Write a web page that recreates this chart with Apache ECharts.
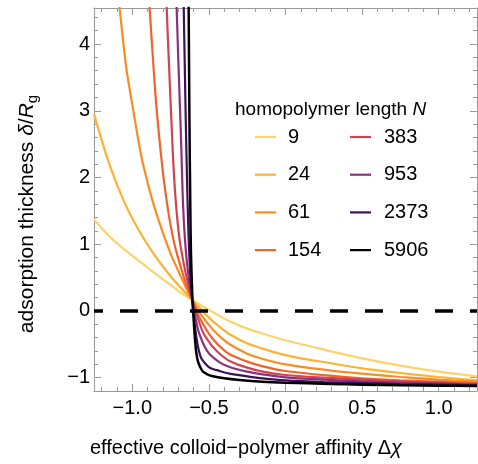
<!DOCTYPE html>
<html>
<head>
<meta charset="utf-8">
<script src="https://cdn.jsdelivr.net/npm/echarts@6/dist/echarts.min.js"></script>
<style>
html,body{margin:0;padding:0;background:#fff;}
#c{width:478px;height:464px;}
</style>
</head>
<body>
<div id="c"></div>
<script>
// ---- data ----
const seriesNames = ['9', '24', '61', '154', '383', '953', '2373', '5906'];
const seriesColors = ['#fdd36c', '#fdb233', '#fb8c22', '#f0632e', '#d1444f', '#8e2f7e', '#3b1258', '#000000'];

const N9 = [[-1.25,1.37],[-1.15,1.12],[-1.05,0.92],[-0.95,0.74],[-0.85,0.56],[-0.75,0.39],[-0.68,0.27],[-0.608,0.16],[-0.48,-0.01],[-0.365,-0.155],[-0.25,-0.265],[-0.12,-0.36],[0,-0.44],[0.25,-0.58],[0.5,-0.71],[0.75,-0.82],[1.0,-0.91],[1.25,-0.98]];
const N24 = [[-1.25,2.95],[-1.15,2.2],[-1.05,1.62],[-0.95,1.18],[-0.85,0.82],[-0.75,0.52],[-0.68,0.34],[-0.608,0.16],[-0.5,-0.1],[-0.43,-0.24],[-0.365,-0.35],[-0.256,-0.48],[-0.15,-0.565],[-0.04,-0.64],[0.1,-0.71],[0.287,-0.78],[0.5,-0.86],[0.75,-0.93],[1.0,-0.99],[1.25,-1.04]];
const N61 = [[-1.095,4.8],[-1.081,4.5],[-1.04,3.65],[-1.005,3.16],[-0.96,2.55],[-0.93,2.2],[-0.864,1.62],[-0.8,1.17],[-0.75,0.86],[-0.712,0.66],[-0.66,0.4],[-0.608,0.16],[-0.55,-0.06],[-0.474,-0.28],[-0.42,-0.4],[-0.365,-0.5],[-0.25,-0.64],[-0.148,-0.72],[0,-0.8],[0.287,-0.89],[0.5,-0.94],[0.75,-0.99],[1.0,-1.03],[1.25,-1.06]];
const N154 = [[-0.895,4.8],[-0.886,4.5],[-0.857,3.5],[-0.835,2.86],[-0.802,2.11],[-0.78,1.72],[-0.756,1.36],[-0.725,1.0],[-0.69,0.71],[-0.65,0.41],[-0.608,0.16],[-0.57,-0.06],[-0.517,-0.28],[-0.474,-0.42],[-0.42,-0.55],[-0.365,-0.65],[-0.25,-0.76],[-0.148,-0.83],[0,-0.9],[0.287,-0.97],[0.5,-1.01],[0.75,-1.04],[1.0,-1.06],[1.25,-1.08]];
const N383 = [[-0.78,4.9],[-0.775,4.5],[-0.757,3.5],[-0.745,2.86],[-0.734,2.3],[-0.723,1.86],[-0.708,1.42],[-0.69,1.05],[-0.67,0.78],[-0.65,0.55],[-0.63,0.35],[-0.608,0.16],[-0.58,-0.05],[-0.539,-0.32],[-0.5,-0.46],[-0.474,-0.54],[-0.42,-0.66],[-0.365,-0.75],[-0.25,-0.85],[-0.148,-0.91],[0,-0.96],[0.25,-1.0],[0.5,-1.03],[0.75,-1.055],[1.0,-1.075],[1.25,-1.095]];
const N953 = [[-0.715,4.9],[-0.71,4.5],[-0.698,3.65],[-0.686,2.86],[-0.677,2.2],[-0.669,1.61],[-0.657,1.1],[-0.643,0.72],[-0.627,0.42],[-0.608,0.16],[-0.595,-0.02],[-0.575,-0.24],[-0.56,-0.36],[-0.53,-0.525],[-0.495,-0.65],[-0.43,-0.77],[-0.365,-0.84],[-0.25,-0.91],[-0.148,-0.95],[0,-0.995],[0.25,-1.03],[0.5,-1.055],[0.75,-1.075],[1.0,-1.09],[1.25,-1.105]];
const N2373 = [[-0.667,4.9],[-0.664,4.5],[-0.651,2.86],[-0.644,2.1],[-0.636,1.36],[-0.628,0.85],[-0.618,0.42],[-0.608,0.16],[-0.598,-0.08],[-0.589,-0.27],[-0.58,-0.42],[-0.565,-0.6],[-0.55,-0.71],[-0.52,-0.8],[-0.495,-0.85],[-0.43,-0.9],[-0.365,-0.94],[-0.25,-0.98],[-0.148,-1.01],[0,-1.04],[0.25,-1.065],[0.5,-1.08],[0.75,-1.095],[1.0,-1.105],[1.25,-1.115]];
const N5906 = [[-0.634,4.9],[-0.632,4.5],[-0.627,2.86],[-0.621,1.5],[-0.617,0.86],[-0.607,0.16],[-0.599,-0.15],[-0.59,-0.45],[-0.582,-0.63],[-0.571,-0.76],[-0.555,-0.85],[-0.539,-0.91],[-0.51,-0.95],[-0.474,-0.98],[-0.4,-1.01],[-0.3,-1.035],[-0.15,-1.06],[0,-1.075],[0.287,-1.095],[0.5,-1.105],[0.75,-1.115],[1.0,-1.12],[1.25,-1.125]];
const zeroLine = [[-1.25,0],[1.25,0]];

const xMajor = [-1, -0.5, 0, 0.5, 1];
const xMinor = [-1.2,-1.1,-0.9,-0.8,-0.7,-0.6,-0.4,-0.3,-0.2,-0.1,0.1,0.2,0.3,0.4,0.6,0.7,0.8,0.9,1.1,1.2];
const yMajor = [-1, 0, 1, 2, 3, 4];
const yMinor = [-0.8,-0.6,-0.4,-0.2,0.2,0.4,0.6,0.8,1.2,1.4,1.6,1.8,2.2,2.4,2.6,2.8,3.2,3.4,3.6,3.8,4.2,4.4];

const xLabel = 'effective colloid\u2212polymer affinity \u0394';
const yLabel = 'adsorption thickness ';
const legendTitle = 'homopolymer length ';

// ---- chart ----
const FONT = '"Liberation Sans", Arial, Helvetica, sans-serif';
const FRAME = '#9a9a9a';
const XMIN = -1.25, XMAX = 1.25, YMIN = -1.2, YMAX = 4.54;
const fmt = (v, d) => (v < 0 ? '\u2212' : '') + Math.abs(v).toFixed(d);

function xAx(pos, ticks, len, line, labels) {
  return {
    type: 'value', position: pos, min: XMIN, max: XMAX,
    axisLine: { show: line, onZero: false, lineStyle: { color: FRAME, width: 1 } },
    axisTick: { show: true, inside: true, length: len, customValues: ticks, lineStyle: { color: FRAME, width: 1 } },
    axisLabel: labels ? { show: true, customValues: ticks, formatter: v => fmt(v, 1), color: '#000', fontSize: 20, fontFamily: FONT, margin: 7 } : { show: false },
    splitLine: { show: false }
  };
}
function yAx(pos, ticks, len, line, labels) {
  return {
    type: 'value', position: pos, min: YMIN, max: YMAX,
    axisLine: { show: line, onZero: false, lineStyle: { color: FRAME, width: 1 } },
    axisTick: { show: true, inside: true, length: len, customValues: ticks, lineStyle: { color: FRAME, width: 1 } },
    axisLabel: labels ? { show: true, customValues: ticks, formatter: v => fmt(v, 0), color: '#000', fontSize: 20, fontFamily: FONT, margin: 4 } : { show: false },
    splitLine: { show: false }
  };
}

const curveData = [N9, N24, N61, N154, N383, N953, N2373, N5906];
const series = curveData.map((d, i) => ({
  name: seriesNames[i], type: 'line', data: d, xAxisIndex: 0, yAxisIndex: 0,
  symbol: 'none', showSymbol: false, smooth: 0.3, clip: true,
  lineStyle: { color: seriesColors[i], width: i === 7 ? 2.5 : 2.2 },
  itemStyle: { color: seriesColors[i] },
  emphasis: { disabled: true }, silent: true, animation: false
}));
series.push({
  name: 'zero', type: 'line', data: zeroLine, xAxisIndex: 0, yAxisIndex: 0,
  symbol: 'none', showSymbol: false, clip: true, silent: true, animation: false,
  lineStyle: { color: '#000', width: 3.5, type: [18, 17], dashOffset: 9, cap: 'butt' }
});

const legendCommon = {
  orient: 'vertical', padding: 0, itemWidth: 21, itemHeight: 2.2, itemGap: 17.7,
  selectedMode: false, icon: 'rect',
  textStyle: { fontSize: 20, color: '#000', fontFamily: FONT, lineHeight: 20 }
};

const chart = echarts.init(document.getElementById('c'), null, { renderer: 'canvas' });
chart.setOption({
  animation: false,
  backgroundColor: '#fff',
  grid: { left: 94, right: 1, top: 8, bottom: 73 },
  xAxis: [ xAx('bottom', xMajor, 7, true, true), xAx('bottom', xMinor, 4, false, false),
           xAx('top', xMajor, 7, true, false), xAx('top', xMinor, 4, false, false) ],
  yAxis: [ yAx('left', yMajor, 7, true, true), yAx('left', yMinor, 4, false, false),
           yAx('right', yMajor, 7, true, false), yAx('right', yMinor, 4, false, false) ],
  legend: [
    Object.assign({}, legendCommon, { data: seriesNames.slice(0, 4), left: 255, top: 127,
      textStyle: Object.assign({}, legendCommon.textStyle, { padding: [0, 0, 0, 7] }) }),
    Object.assign({}, legendCommon, { data: seriesNames.slice(4), left: 350, top: 127,
      textStyle: Object.assign({}, legendCommon.textStyle, { padding: [0, 0, 0, 8] }) })
  ],
  graphic: [
    { type: 'text', left: 235, top: 100, silent: true,
      style: { text: '{a|' + legendTitle + '}{i|N}', rich: {
        a: { fontSize: 19, fontFamily: FONT, fill: '#000' },
        i: { fontSize: 19, fontFamily: FONT, fontStyle: 'italic', fill: '#000' } } } },
    { type: 'text', x: 246, y: 448, silent: true,
      style: { text: '{a|' + xLabel + '}{i|\u03c7}', align: 'center', verticalAlign: 'middle', rich: {
        a: { fontSize: 20, fontFamily: FONT, fill: '#000' },
        i: { fontSize: 20, fontFamily: FONT, fontStyle: 'italic', fill: '#000' } } } },
    { type: 'text', x: 27, y: 214, rotation: Math.PI / 2, silent: true,
      style: { text: '{a|' + yLabel + '}{i|\u03b4}{a|/}{i|R}{s|g}', align: 'center', verticalAlign: 'middle', rich: {
        a: { fontSize: 21, fontFamily: FONT, fill: '#000', lineHeight: 27 },
        i: { fontSize: 21, fontFamily: FONT, fontStyle: 'italic', fill: '#000', lineHeight: 27 },
        s: { fontSize: 15, fontFamily: FONT, fill: '#000', lineHeight: 15, verticalAlign: 'bottom' } } } }
  ],
  series: series
});
</script>
</body>
</html>
